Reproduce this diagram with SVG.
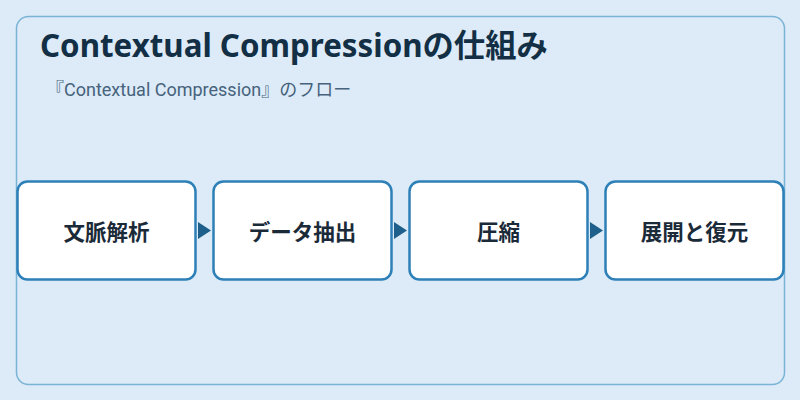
<svg xmlns="http://www.w3.org/2000/svg" width="800" height="400" viewBox="0 0 800 400">
<defs>
<style>
.title{font-family:"Noto Sans","Noto Sans CJK JP",sans-serif;font-weight:700;font-size:31.3px;fill:#132f45}
.sub{font-family:"Roboto","Noto Sans CJK JP",sans-serif;font-size:18px;fill:#46627c}
.box{fill:#ffffff;stroke:#2e80b8;stroke-width:2.5}
.lbl{font-family:"Noto Sans CJK JP",sans-serif;font-weight:700;font-size:21.5px;fill:#1b2a38;text-anchor:middle}
.arr{fill:#1f5f8c}
</style>
</defs>
<rect x="0" y="0" width="800" height="400" fill="#dcebf7"/>
<rect x="16.5" y="16.5" width="768" height="368" rx="12" fill="#dcebf7" stroke="#7ab3d6" stroke-width="1.5"/>
<text class="title" x="40" y="57">Contextual Compressionの仕組み</text>
<text class="sub" x="46" y="96">『Contextual Compression』のフロー</text>
<g id="connectors">
<polygon class="arr" points="198,222 211,230.5 198,239"/>
<polygon class="arr" points="394,222 407,230.5 394,239"/>
<polygon class="arr" points="590,222 603,230.5 590,239"/>
</g>
<g id="n1"><rect class="box" x="17.5" y="181.5" width="178" height="98" rx="10"/><text class="lbl" x="106.5" y="239.5">文脈解析</text></g>
<g id="n2"><rect class="box" x="213.5" y="181.5" width="178" height="98" rx="10"/><text class="lbl" x="302.5" y="239.5">データ抽出</text></g>
<g id="n3"><rect class="box" x="409.5" y="181.5" width="178" height="98" rx="10"/><text class="lbl" x="498.5" y="239.5">圧縮</text></g>
<g id="n4"><rect class="box" x="605.5" y="181.5" width="178" height="98" rx="10"/><text class="lbl" x="694.5" y="239.5">展開と復元</text></g>
</svg>
